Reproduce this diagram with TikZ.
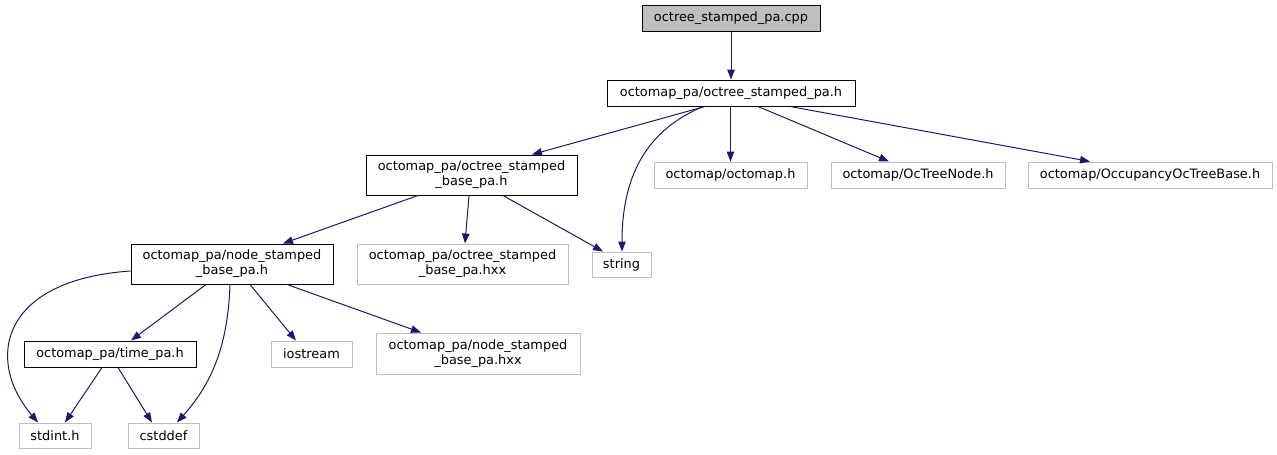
\documentclass[tikz,border=0pt]{standalone}
\usepackage{fontspec}
\setmainfont{DejaVu Sans}
\usetikzlibrary{arrows.meta}
\definecolor{edgec}{HTML}{191970}
\definecolor{greyb}{HTML}{BFBFBF}
\begin{document}
\begin{tikzpicture}[x=1pt,y=-1pt,
  box/.style={draw=black,line width=1pt,inner sep=0pt,minimum height=26pt,align=center,font=\fontsize{12.9}{15}\selectfont},
  ext/.style={box,draw=greyb},
  twol/.style={minimum height=40pt},
  dep/.style={draw=edgec,line width=1pt,-{Triangle[length=10pt,width=7.5pt]}}]
\useasboundingbox (0,0) rectangle (1277,455);
% nodes
\node[box,fill=greyb,minimum width=178pt] (cpp) at (731,18) {octree\_stamped\_pa.cpp};
\node[box,minimum width=248pt] (osp) at (731,93) {octomap\_pa/octree\_stamped\_pa.h};
\node[box,twol,minimum width=211pt] (osbp) at (471.5,175) {octomap\_pa/octree\_stamped\\\_base\_pa.h};
\node[ext,minimum width=153pt] (octomap) at (730.5,175) {octomap/octomap.h};
\node[ext,minimum width=174pt] (octreenode) at (918,175) {octomap/OcTreeNode.h};
\node[ext,minimum width=244pt] (occ) at (1150,175) {octomap/OccupancyOcTreeBase.h};
\node[box,twol,minimum width=202pt] (nsbp) at (232,264) {octomap\_pa/node\_stamped\\\_base\_pa.h};
\node[ext,twol,minimum width=211pt] (osbphxx) at (462.5,264) {octomap\_pa/octree\_stamped\\\_base\_pa.hxx};
\node[ext,minimum width=59pt,minimum height=25pt] (string) at (621.5,264.5) {string};
\node[box,minimum width=172pt] (time) at (110,354) {octomap\_pa/time\_pa.h};
\node[ext,minimum width=81pt] (iostream) at (311.5,354) {iostream};
\node[ext,twol,minimum width=204pt,minimum height=41pt] (nsbphxx) at (478,353.5) {octomap\_pa/node\_stamped\\\_base\_pa.hxx};
\node[ext,minimum width=72pt,minimum height=25pt] (stdint) at (55,435.5) {stdint.h};
\node[ext,minimum width=71pt,minimum height=25pt] (cstddef) at (163.5,435.5) {cstddef};
% edges
\draw[dep] (cpp.south) -- (osp.north);
\draw[dep] ([xshift=-26pt]osp.south) -- ([xshift=60.5pt]osbp.north);
\draw[dep] ([xshift=-28pt]osp.south) .. controls (660,125) and (622,160) .. ([xshift=0.5pt]string.north);
\draw[dep] ([xshift=-0.5pt]osp.south) -- (octomap.north);
\draw[dep] ([xshift=27pt]osp.south) -- ([xshift=-29pt]octreenode.north);
\draw[dep] ([xshift=59pt]osp.south) -- ([xshift=-60pt]occ.north);
\draw[dep] ([xshift=-53.5pt]osbp.south) -- ([xshift=51pt]nsbp.north);
\draw[dep] ([xshift=-2.5pt]osbp.south) -- ([xshift=2.5pt]osbphxx.north);
\draw[dep] ([xshift=31.5pt]osbp.south) -- ([xshift=-18.5pt]string.north);
\draw[dep] ([yshift=-7pt]nsbp.west) .. controls (0,280) and (-15,360) .. ([xshift=-17pt]stdint.north);
\draw[dep] ([xshift=-26pt]nsbp.south) -- ([xshift=21pt]time.north);
\draw[dep] ([xshift=-2pt]nsbp.south) .. controls (228,340) and (215,380) .. ([xshift=13.5pt]cstddef.north);
\draw[dep] ([xshift=18pt]nsbp.south) -- ([xshift=-15.5pt]iostream.north);
\draw[dep] ([xshift=55pt]nsbp.south) -- ([xshift=-57pt]nsbphxx.north);
\draw[dep] ([xshift=-8pt]time.south) -- ([xshift=10pt]stdint.north);
\draw[dep] ([xshift=8pt]time.south) -- ([xshift=-11.5pt]cstddef.north);
\end{tikzpicture}
\end{document}
